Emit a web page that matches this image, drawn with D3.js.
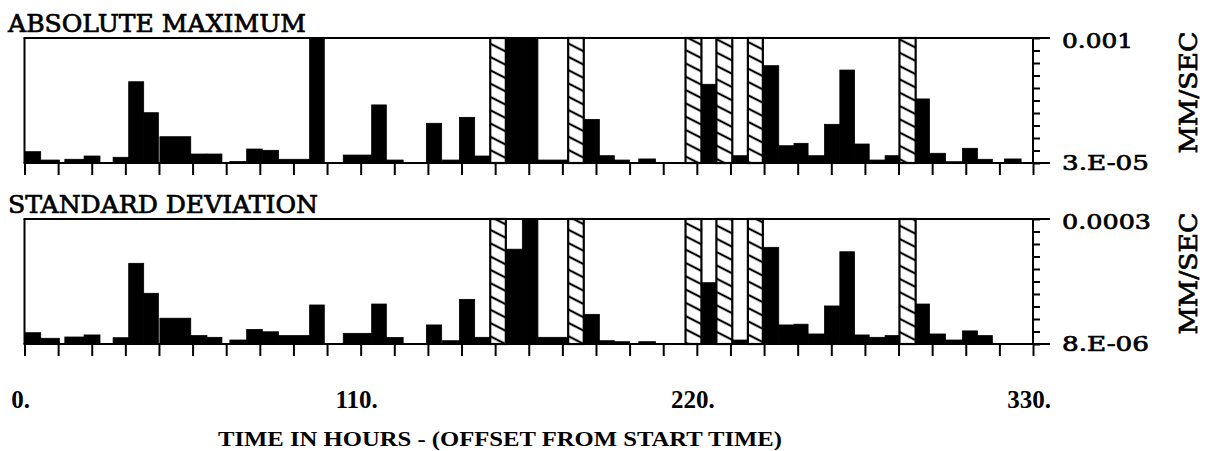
<!DOCTYPE html>
<html>
<head>
<meta charset="utf-8">
<script src="https://cdn.jsdelivr.net/npm/d3@7"></script>
<style>
  body { margin: 0; background: #fff; }
  svg { display: block; }
</style>
</head>
<body>
<svg id="chart" width="1209" height="451"></svg>
<script>
// Recording intervals (hours from start time)
const segStart = [0, 5.3, 13.2, 19.5, 29.0, 34.1, 39.0, 44.3, 54.4, 59.7, 67.2, 72.7, 77.8, 83.1, 93.3,
  104.3, 113.6, 118.4, 131.5, 136.8, 142.3, 147.3, 157.5, 162.9, 168.0, 183.0, 188.1, 193.0, 201.0,
  221.5, 231.6, 241.6, 246.8, 251.8, 256.4, 261.8, 266.8, 271.6, 276.4, 281.6, 291.6, 296.1, 301.4,
  306.9, 311.8, 320.7];
const segEnd = [5.3, 11.4, 19.5, 24.7, 34.1, 39.0, 43.8, 54.4, 59.7, 64.6, 72.7, 77.8, 83.1, 93.3, 98.1,
  113.6, 118.4, 123.9, 136.5, 142.3, 147.3, 152.4, 162.9, 168.0, 177.9, 188.1, 193.0, 198.0, 206.5,
  226.4, 236.7, 246.8, 251.8, 256.4, 261.8, 266.8, 271.6, 276.4, 281.6, 286.3, 296.1, 301.4, 306.9,
  311.8, 316.7, 326.1];

// Absolute maximum amplitude per interval (mm/sec)
const absMax = [4.12e-5, 3.26e-5, 3.33e-5, 3.65e-5, 3.52e-5, 2.93e-4, 1.23e-4, 6.27e-5, 3.86e-5, 3.86e-5,
  3.13e-5, 4.44e-5, 4.28e-5, 3.33e-5, 1.0e-3, 3.75e-5, 1.53e-4, 3.26e-5, 9.14e-5, 3.26e-5,
  1.08e-4, 3.65e-5, 1.0e-3, 1.0e-3, 3.26e-5, 1.02e-4, 3.68e-5, 3.26e-5, 3.36e-5, 2.73e-4,
  3.68e-5, 4.60e-4, 4.87e-5, 5.21e-5, 3.68e-5, 8.88e-5, 4.07e-4, 5.11e-5, 3.26e-5, 3.68e-5,
  1.81e-4, 3.94e-5, 3.11e-5, 4.53e-5, 3.33e-5, 3.36e-5];

// Standard deviation per interval (mm/sec)
const stdDev = [1.11e-5, 9.44e-6, 9.80e-6, 1.04e-5, 9.60e-6, 8.30e-5, 3.48e-5, 1.69e-5, 1.02e-5, 9.71e-6,
  8.98e-6, 1.22e-5, 1.14e-5, 1.02e-5, 2.48e-5, 1.09e-5, 2.55e-5, 9.66e-6, 1.39e-5, 8.80e-6,
  2.92e-5, 9.71e-6, 1.25e-4, 3.0e-4, 9.71e-6, 1.89e-5, 8.80e-6, 8.55e-6, 8.55e-6, 4.73e-5,
  8.98e-6, 1.32e-4, 1.39e-5, 1.42e-5, 1.07e-5, 2.41e-5, 1.16e-4, 1.04e-5, 9.71e-6, 1.02e-5,
  2.55e-5, 1.07e-5, 8.98e-6, 1.17e-5, 1.02e-5, 8.0e-6];

// Data gaps (hatched)
const gapStart = [152.4, 177.9, 216.3, 226.4, 236.7, 286.3];
const gapEnd   = [157.5, 183.0, 221.5, 231.6, 241.6, 291.6];

// Axis settings
const xTickValues = [0, 110, 220, 330];
const xTickLabels = ["0.", "110.", "220.", "330."];
const panelTitles = ["ABSOLUTE MAXIMUM", "STANDARD DEVIATION"];
const yDomains = [[3e-5, 1e-3], [8e-6, 3e-4]];
const yLabels = [["3.E-05", "0.001"], ["8.E-06", "0.0003"]];
const yUnit = "MM/SEC";
const xTitle = "TIME IN HOURS - (OFFSET FROM START TIME)";

const svg = d3.select("#chart");
const x = d3.scaleLinear().domain([0, 330]).range([24.5, 1033]);
const panelTops = [38, 219];
const panelH = 125;
const serif = "'DejaVu Serif', serif";
const timesFont = "'Liberation Serif', 'Times New Roman', serif";

const segments = segStart.map((s, i) => ({ s, e: segEnd[i], i }));
const gaps = gapStart.map((s, i) => ({ s, e: gapEnd[i] }));

// diagonal hatching for data gaps
const defs = svg.append("defs");
const pat = defs.append("pattern")
  .attr("id", "hatch")
  .attr("patternUnits", "userSpaceOnUse")
  .attr("width", 20).attr("height", 13.3)
  .attr("patternTransform", "skewY(27)");
pat.append("rect").attr("width", 20).attr("height", 13.3).attr("fill", "#fff");
pat.append("line").attr("x1", -1).attr("x2", 21).attr("y1", 6.65).attr("y2", 6.65)
  .attr("stroke", "#000").attr("stroke-width", 2.4);

const panelValues = [absMax, stdDev];

panelValues.forEach((vals, p) => {
  const top = panelTops[p];
  const bottom = top + panelH;
  const [lo, hi] = yDomains[p];
  const y = d3.scaleLog().domain([lo, hi]).range([bottom, top]).clamp(true);
  const g = svg.append("g");

  // bars
  g.selectAll("rect.bar").data(segments).join("rect")
    .attr("class", "bar")
    .attr("x", d => x(d.s))
    .attr("width", d => x(d.e) - x(d.s))
    .attr("y", d => y(vals[d.i]))
    .attr("height", d => bottom - y(vals[d.i]))
    .attr("fill", "#000")
    .attr("stroke", "#000")
    .attr("stroke-width", 0.8);

  // gaps
  g.selectAll("rect.gap").data(gaps).join("rect")
    .attr("class", "gap")
    .attr("x", d => x(d.s))
    .attr("width", d => x(d.e) - x(d.s))
    .attr("y", top)
    .attr("height", panelH)
    .attr("fill", "url(#hatch)")
    .attr("stroke", "#000")
    .attr("stroke-width", 2.2);

  // frame
  const frame = g.append("g").attr("stroke", "#000").attr("stroke-width", 2).attr("fill", "none");
  frame.append("line").attr("x1", x(0) - 1).attr("x2", 1050).attr("y1", top).attr("y2", top);
  frame.append("line").attr("x1", x(0) - 1).attr("x2", 1050).attr("y1", bottom).attr("y2", bottom);
  frame.append("line").attr("x1", x(0)).attr("x2", x(0)).attr("y1", top).attr("y2", bottom);
  frame.append("line").attr("x1", x(330)).attr("x2", x(330)).attr("y1", top).attr("y2", bottom);

  // bottom time ticks every 11 hours
  const xAxis = d3.axisBottom(x).tickValues(d3.range(0, 331, 11)).tickSize(12).tickFormat("");
  const xa = g.append("g").attr("transform", `translate(0,${bottom})`).call(xAxis);
  xa.select(".domain").remove();
  xa.selectAll(".tick line").attr("stroke", "#000").attr("stroke-width", 2);

  // right log axis: 10 equal divisions
  const rTicks = d3.range(0, 11).map(k => lo * Math.pow(hi / lo, k / 10));
  const yAxis = d3.axisRight(y).tickValues(rTicks).tickSize(7).tickFormat("");
  const ya = g.append("g").attr("transform", `translate(${x(330)},0)`).call(yAxis);
  ya.select(".domain").remove();
  ya.selectAll(".tick line").attr("stroke", "#000").attr("stroke-width", 2);

  const heavy = sel => sel.attr("stroke", "#000").attr("stroke-width", 0.7).attr("fill", "#000");

  // range labels
  g.append("text").attr("x", 1062).attr("y", top + 10)
    .attr("font-family", serif).attr("font-size", 21)
    .attr("textLength", p === 0 ? 71 : 89).attr("lengthAdjust", "spacingAndGlyphs")
    .call(heavy)
    .text(yLabels[p][1]);
  g.append("text").attr("x", 1062).attr("y", bottom + 7)
    .attr("font-family", serif).attr("font-size", 21)
    .attr("textLength", 87).attr("lengthAdjust", "spacingAndGlyphs")
    .call(heavy)
    .text(yLabels[p][0]);

  // unit label
  g.append("text")
    .attr("transform", `translate(1197,${(top + bottom) / 2 - 8}) rotate(-90)`)
    .attr("text-anchor", "middle")
    .attr("font-family", serif).attr("font-size", 25)
    .attr("textLength", 122).attr("lengthAdjust", "spacingAndGlyphs")
    .call(heavy)
    .text(yUnit);

  // panel title
  g.append("text").attr("x", 8).attr("y", top - 6)
    .attr("font-family", serif).attr("font-size", 24)
    .attr("textLength", p === 0 ? 298 : 310).attr("lengthAdjust", "spacingAndGlyphs")
    .call(heavy)
    .text(panelTitles[p]);
});

// time labels
svg.append("g").selectAll("text").data(xTickValues).join("text")
  .attr("x", d => x(d) - 4)
  .attr("y", 408)
  .attr("text-anchor", "middle")
  .attr("font-family", timesFont).attr("font-size", 25).attr("font-weight", "bold")
  .text((d, i) => xTickLabels[i]);

svg.append("text")
  .attr("x", 500).attr("y", 446)
  .attr("text-anchor", "middle")
  .attr("font-family", timesFont).attr("font-size", 22).attr("font-weight", "bold")
  .attr("textLength", 564).attr("lengthAdjust", "spacingAndGlyphs")
  .text(xTitle);
</script>
</body>
</html>
